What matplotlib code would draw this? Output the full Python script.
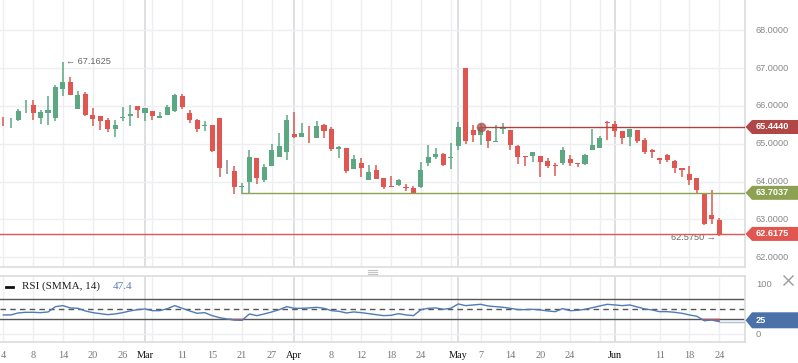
import matplotlib
matplotlib.use("Agg")
import matplotlib.pyplot as plt
import numpy as np
from matplotlib.patches import Polygon
from matplotlib.transforms import blended_transform_factory

# ---------------- data ----------------
opens = [65.61, 65.59, 65.63, 65.88, 66.03, 65.67, 65.82, 65.69, 66.44, 66.63,
         65.91, 66.31, 65.76, 65.74, 65.63, 65.40, 65.67, 65.74, 66.00, 65.82,
         65.87, 65.67, 65.76, 65.87, 66.26, 65.82, 65.63, 65.48, 65.50, 65.67,
         64.40, 64.28, 63.86, 63.98, 64.62, 64.04, 64.42, 64.66, 64.79, 65.26,
         65.19, 65.24, 65.16, 65.50, 65.39, 64.85, 64.89, 64.33, 64.49, 64.05,
         64.31, 64.10, 63.89, 63.90, 63.87, 63.84, 63.86, 64.48, 64.66, 64.73,
         64.62, 64.95, 67.00, 65.37, 65.23, 65.34, 65.05, 65.40, 65.37, 64.95,
         64.67, 64.68, 64.69, 64.55, 64.43, 64.50, 64.60, 64.50, 64.47, 64.84,
         64.88, 65.57, 65.52, 65.34, 65.18, 65.36, 65.10, 64.84, 64.62, 64.70,
         64.55, 64.35, 64.21, 64.09, 63.69, 63.12, 62.99]
highs = [65.72, 65.67, 65.92, 66.16, 66.16, 65.89, 66.26, 66.56, 67.1625, 66.76,
         66.40, 66.37, 65.94, 65.74, 65.67, 65.63, 65.96, 66.03, 66.00, 65.95,
         65.87, 65.85, 66.03, 66.32, 66.32, 65.89, 65.66, 65.60, 65.50, 65.67,
         64.57, 64.40, 63.97, 64.84, 64.62, 64.47, 65.00, 65.28, 65.76, 65.83,
         65.56, 65.47, 65.60, 65.52, 65.44, 64.95, 64.89, 64.70, 64.62, 64.44,
         64.44, 64.10, 64.15, 64.07, 63.95, 63.89, 64.51, 64.97, 64.89, 64.75,
         65.01, 65.58, 67.00, 65.50, 65.52, 65.37, 65.50, 65.56, 65.37, 64.98,
         64.67, 64.79, 64.69, 64.62, 64.50, 64.92, 64.71, 64.50, 64.73, 65.39,
         65.20, 65.59, 65.61, 65.34, 65.38, 65.36, 65.14, 64.86, 64.62, 64.74,
         64.58, 64.37, 64.40, 64.09, 63.70, 63.78, 63.03]
lows = [65.47, 65.43, 65.60, 65.82, 65.63, 65.52, 65.50, 65.59, 66.26, 66.30,
        65.91, 65.74, 65.48, 65.37, 65.32, 65.17, 65.59, 65.48, 65.69, 65.61,
        65.63, 65.67, 65.76, 65.85, 65.93, 65.56, 65.31, 65.35, 64.79, 64.13,
        64.20, 63.68, 63.68, 63.70, 63.94, 64.00, 64.42, 64.66, 64.57, 65.14,
        65.19, 65.03, 65.16, 65.15, 64.82, 64.63, 64.22, 64.33, 64.13, 64.05,
        64.08, 63.80, 63.87, 63.89, 63.74, 63.69, 63.84, 64.42, 64.60, 64.40,
        64.34, 64.84, 65.00, 65.06, 64.97, 64.90, 65.05, 65.26, 64.84, 64.47,
        64.40, 64.53, 64.11, 64.35, 64.16, 64.45, 64.40, 64.38, 64.45, 64.84,
        64.88, 65.10, 65.17, 64.99, 64.95, 65.03, 64.73, 64.63, 64.47, 64.51,
        64.22, 64.13, 63.91, 63.69, 62.86, 62.88, 62.575]
closes = [65.59, 65.61, 65.87, 65.90, 65.82, 65.83, 65.89, 66.49, 66.63, 66.30,
          66.29, 65.76, 65.65, 65.59, 65.40, 65.50, 65.70, 65.79, 65.89, 65.95,
          65.74, 65.74, 65.97, 66.29, 65.98, 65.63, 65.40, 65.50, 64.81, 64.37,
          64.40, 63.87, 63.88, 64.66, 64.09, 64.39, 64.84, 64.94, 65.63, 65.18,
          65.28, 65.22, 65.47, 65.35, 64.87, 64.92, 64.29, 64.59, 64.35, 64.26,
          64.08, 63.85, 63.87, 64.04, 63.82, 63.71, 64.31, 64.65, 64.74, 64.45,
          64.64, 65.44, 65.08, 65.24, 65.444, 65.08, 65.07, 65.42, 64.97, 64.66,
          64.65, 64.77, 64.53, 64.42, 64.41, 64.83, 64.48, 64.46, 64.71, 64.97,
          65.16, 65.54, 65.35, 65.16, 65.38, 65.08, 64.79, 64.79, 64.57, 64.58,
          64.37, 64.31, 64.03, 63.78, 62.88, 63.02, 62.6175]
rsi = [38.7, 38.7, 42.7, 44.0, 44.0, 43.3, 44.7, 55.3, 57.3, 52.7,
       52.0, 46.7, 43.3, 41.3, 39.3, 40.7, 43.3, 46.7, 49.3, 50.7,
       47.3, 47.3, 51.3, 57.3, 52.0, 46.7, 42.0, 43.3, 37.3, 33.3,
       30.7, 28.7, 28.0, 40.7, 37.3, 40.7, 44.7, 49.3, 55.3, 52.0,
       52.0, 52.7, 54.0, 52.0, 47.3, 46.0, 42.7, 44.7, 43.3, 41.3,
       39.3, 37.3, 38.0, 41.3, 38.7, 37.3, 49.3, 52.0, 52.7, 50.0,
       52.0, 60.7, 57.3, 58.7, 60.0, 56.7, 55.3, 54.0, 52.0, 49.3,
       49.3, 50.0, 48.7, 46.7, 45.3, 51.3, 47.3, 48.0, 50.0, 53.3,
       56.7, 60.0, 58.7, 57.3, 58.7, 54.7, 50.7, 48.7, 45.3, 45.3,
       44.0, 42.0, 38.7, 36.0, 27.3, 28.7, 25.5]

tick_idx = [0, 4, 8, 12, 16, 19, 24, 28, 32, 36, 39, 44, 48, 52, 56, 61, 64, 68, 72, 76, 82, 88, 92, 96]
tick_lbl = ["4", "8", "14", "20", "26", "Mar", "11", "15", "21", "27", "Apr", "8", "12", "18", "24",
            "May", "7", "14", "20", "24", "Jun", "11", "18", "24"]
month_lbl = ["Mar", "Apr", "May", "Jun"]
month_idx = [19, 39, 61, 82]
price_ticks = [62, 63, 64, 65, 66, 67, 68]

high_mark = 67.1625
low_mark = 62.5750
resist_level = 65.4440
resist_start = 64
support_level = 63.7037
support_start = 32
last_level = 62.6175
rsi_box_val = 25
rsi_legend_val = "47.4"

# ---------------- styles ----------------
GREEN = "#5ba882"
RED = "#e05650"
GRAY = "#8a8a8a"
GRID = "#eceef1"
MGRID = "#d8d9db"
SPINE = "#dcdcdc"
SERIF = ["Liberation Serif", "DejaVu Serif"]
SANS = ["Liberation Sans", "DejaVu Sans"]

W, H = 798, 363
fig = plt.figure(figsize=(W / 100, H / 100), dpi=100)
ax = fig.add_axes([0, (H - 267) / H, 745 / W, 267 / H])
rx = fig.add_axes([0, (H - 342) / H, 745 / W, (342 - 275.7) / H])
ov = fig.add_axes([0, 0, 1, 1], zorder=10)
ov.set_xlim(0, W)
ov.set_ylim(H, 0)
ov.axis("off")

n = len(opens)
idx = np.arange(n)
o = np.array(opens); h = np.array(highs); l = np.array(lows); c = np.array(closes)
xl = (-0.44, 99.45)

for a in (ax, rx):
    a.set_xlim(*xl)
    a.set_xticks([]); a.set_yticks([])
    a.spines["left"].set_visible(False)
    for s in ("top", "bottom", "right"):
        a.spines[s].set_color(SPINE)
        a.spines[s].set_linewidth(1.2)
    for gi in range(0, n, 4):
        a.axvline(gi, color=GRID, lw=1, zorder=0)
    for mi in month_idx:
        a.axvline(mi, color=MGRID, lw=1.2, zorder=0)
ax.spines["top"].set_visible(False)

ax.set_ylim(61.743, 68.801)
rx.set_ylim(-15.4, 117.2)

for v in price_ticks:
    ax.axhline(v, color=GRID, lw=1, zorder=0)
rx.axhline(0, color=GRID, lw=1, zorder=0)

# candles
cols = np.where(np.abs(c - o) < 0.005, GRAY, np.where(c >= o, GREEN, RED))
ax.vlines(idx, l, h, colors=cols, lw=1.1, zorder=3)
ax.bar(idx, np.maximum(np.abs(c - o), 0.025), bottom=np.minimum(o, c), width=0.68,
       color=cols, linewidth=0, zorder=3)

# level lines
ax.plot([resist_start, xl[1]], [resist_level] * 2, color="#a94442", lw=1, zorder=4)
ax.plot([resist_start], [resist_level], "o", ms=6, color="#b34a4a", alpha=0.7, zorder=5)
ax.plot([support_start, xl[1]], [support_level] * 2, color="#8ca152", lw=1, zorder=4)
ax.plot([xl[0], xl[1]], [last_level] * 2, color="#e05650", lw=1, zorder=4)

ax.annotate("\u2190 %.4f" % high_mark, xy=(8, high_mark), xytext=(3, 0), textcoords="offset pixels",
            ha="left", va="center", fontsize=6.6, color="#666666", family=SANS, zorder=3)
ax.annotate("%.4f \u2192" % low_mark, xy=(96, low_mark), xytext=(-3, -1.5), textcoords="offset pixels",
            ha="right", va="center", fontsize=6.6, color="#666666", family=SANS, zorder=3)

# RSI
r = np.array(rsi)
rx.axhline(70, color="#555555", lw=1, zorder=2)
rx.axhline(30, color="#555555", lw=1, zorder=2)
rx.axhline(50, color="#555555", lw=1, ls=(0, (4, 3)), zorder=2)
rx.fill_between(idx, r, 30, where=r < 30, interpolate=True, color="#d05050", alpha=0.8, zorder=3)
rx.plot(idx, r, color="#4f7bb8", lw=1, zorder=4)
rx.plot([idx[-1], xl[1]], [r[-1], r[-1]], color="#a9c0de", lw=1, zorder=4)


def ypix(a, v):
    return H - a.transData.transform((0, v))[1]


for v in price_ticks:
    ov.text(756, ypix(ax, v), "%.4f" % v, ha="left", va="center", fontsize=6.6,
            color="#888888", family=SANS)
for v in (100, 0):
    ov.text(756, ypix(rx, v), str(v), ha="left", va="center", fontsize=6.8,
            color="#888888", family=SANS)


def box(y, color, text, hh=7):
    pts = [(745.5, y), (752, y - hh), (W, y - hh), (W, y + hh), (752, y + hh)]
    ov.add_patch(Polygon(pts, closed=True, fc=color, ec="none", zorder=11))
    ov.text(756, y, text, ha="left", va="center", fontsize=6.6, color="white",
            fontweight="bold", family=SANS, zorder=12)


box(ypix(ax, resist_level), "#b04646", "%.4f" % resist_level)
box(ypix(ax, support_level), "#8ca152", "%.4f" % support_level)
box(ypix(ax, last_level), "#e05650", "%.4f" % last_level)
box(ypix(rx, rsi_box_val) - 1.5, "#4a72a8", str(rsi_box_val), hh=8)

# x labels
tr = blended_transform_factory(rx.transData, ov.transData)
for i, lb in zip(tick_idx, tick_lbl):
    ov.text(i, 355, lb, transform=tr, ha="center", va="center", fontsize=7.4,
            color="#111111" if lb in month_lbl else "#777777", family=SERIF)

# legend
ov.plot([6, 13], [286.5, 286.5], color="#111111", lw=2)
ov.text(22, 286.5, "RSI (SMMA, 14)", ha="left", va="center", fontsize=8, color="#222222", family=SERIF)
ov.text(113, 286.5, rsi_legend_val, ha="left", va="center", fontsize=8, color="#5a80b8", family=SERIF)

# panel handle and close icon
for yy in (269.5, 271.5, 273.5):
    ov.plot([368, 377], [yy, yy], color="#c4c4c4", lw=0.8)
ov.plot([784, 793], [276, 285], color="#9a9a9a", lw=1)
ov.plot([784, 793], [285, 276], color="#9a9a9a", lw=1)

fig.savefig("out.png", dpi=100)
